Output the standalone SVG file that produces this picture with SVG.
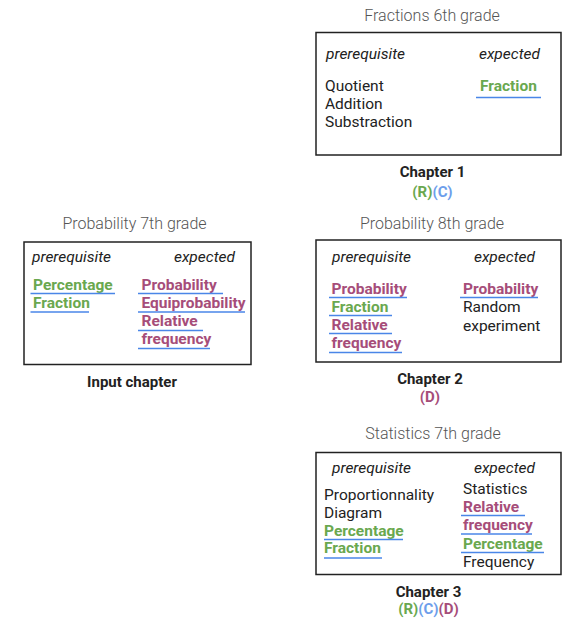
<svg xmlns="http://www.w3.org/2000/svg" width="562" height="619" viewBox="0 0 562 619">
<style>
text{font-family:Roboto,"Liberation Sans",sans-serif;font-size:15.5px;fill:#222}
.title{font-weight:300;font-size:16px;fill:#555;text-anchor:middle}
.head{font-style:italic;font-size:15.5px}
.end{text-anchor:end}
.g{fill:#6aa84f;font-weight:bold}
.m{fill:#a64d79;font-weight:bold}
.c{fill:#6d9eeb}
.cap{font-weight:bold;font-size:15px;text-anchor:middle}
.tag{font-weight:bold;font-size:15px}
.box{fill:#fff;stroke:#222;stroke-width:1.5}
.ul{stroke:#4a86e8;stroke-width:1.5;fill:none}
</style>
<rect width="562" height="619" fill="#fff"/>

<g id="chapter1">
<text class="title" x="432" y="21">Fractions 6th grade</text>
<rect class="box" x="316" y="32.5" width="245" height="122.5"/>
<text class="head" x="326" y="59">prerequisite</text>
<text class="head end" x="540" y="59">expected</text>
<text x="325" y="91">Quotient</text>
<text x="325" y="109">Addition</text>
<text x="325" y="127">Substraction</text>
<text class="g" x="480" y="91">Fraction</text>
<path class="ul" d="M476 97.5H541"/>
<text class="cap" x="432.5" y="177">Chapter 1</text>
<text class="tag" x="432.5" y="197" text-anchor="middle"><tspan class="g">(R)</tspan><tspan class="c">(C)</tspan></text>
</g>

<g id="input-chapter">
<text class="title" x="134.5" y="229">Probability 7th grade</text>
<rect class="box" x="24" y="242" width="227" height="122.5"/>
<text class="head" x="32" y="262">prerequisite</text>
<text class="head end" x="235" y="262">expected</text>
<text class="g" x="33" y="290">Percentage</text>
<path class="ul" d="M30.5 293.5H115"/>
<text class="g" x="33" y="308">Fraction</text>
<path class="ul" d="M30.5 312H89"/>
<text class="m" x="141.5" y="290">Probability</text>
<path class="ul" d="M138 293.5H223"/>
<text class="m" x="141.5" y="308">Equiprobability</text>
<path class="ul" d="M138 312H245"/>
<text class="m" x="141.5" y="326">Relative</text>
<path class="ul" d="M138 330.5H203"/>
<text class="m" x="141.5" y="344">frequency</text>
<path class="ul" d="M138 348.5H210"/>
<text class="cap" x="132" y="387">Input chapter</text>
</g>

<g id="chapter2">
<text class="title" x="432" y="229">Probability 8th grade</text>
<rect class="box" x="316" y="240" width="245" height="122"/>
<text class="head" x="332" y="262">prerequisite</text>
<text class="head end" x="535" y="262">expected</text>
<text class="m" x="331.5" y="293.5">Probability</text>
<path class="ul" d="M329 297.5H407"/>
<text class="g" x="331.5" y="311.5">Fraction</text>
<path class="ul" d="M329 315.5H392"/>
<text class="m" x="331.5" y="329.5">Relative</text>
<path class="ul" d="M329 333.5H392"/>
<text class="m" x="331.5" y="347.5">frequency</text>
<path class="ul" d="M329 352.5H402"/>
<text class="m" x="463" y="293.5">Probability</text>
<path class="ul" d="M460 297.5H538"/>
<text x="463" y="311.5">Random</text>
<text x="463" y="330.5">experiment</text>
<text class="cap" x="430" y="384">Chapter 2</text>
<text class="tag m" x="430" y="402" text-anchor="middle">(D)</text>
</g>

<g id="chapter3">
<text class="title" x="433" y="439">Statistics 7th grade</text>
<rect class="box" x="316" y="452.5" width="245" height="122"/>
<text class="head" x="332" y="473">prerequisite</text>
<text class="head end" x="535" y="473">expected</text>
<text x="324" y="499.5">Proportionnality</text>
<text x="324" y="517.5">Diagram</text>
<text class="g" x="324" y="535.5">Percentage</text>
<path class="ul" d="M324 539.5H403"/>
<text class="g" x="324" y="553">Fraction</text>
<path class="ul" d="M324 558H382"/>
<text x="463" y="493.5">Statistics</text>
<text class="m" x="463" y="511.5">Relative</text>
<path class="ul" d="M461 515.5H525"/>
<text class="m" x="463" y="530">frequency</text>
<path class="ul" d="M461 534H532"/>
<text class="g" x="463" y="548.5">Percentage</text>
<path class="ul" d="M461 552.5H544"/>
<text x="463" y="567">Frequency</text>
<text class="cap" x="428.5" y="597">Chapter 3</text>
<text class="tag" x="428.5" y="614" text-anchor="middle"><tspan class="g">(R)</tspan><tspan class="c">(C)</tspan><tspan class="m">(D)</tspan></text>
</g>
</svg>
